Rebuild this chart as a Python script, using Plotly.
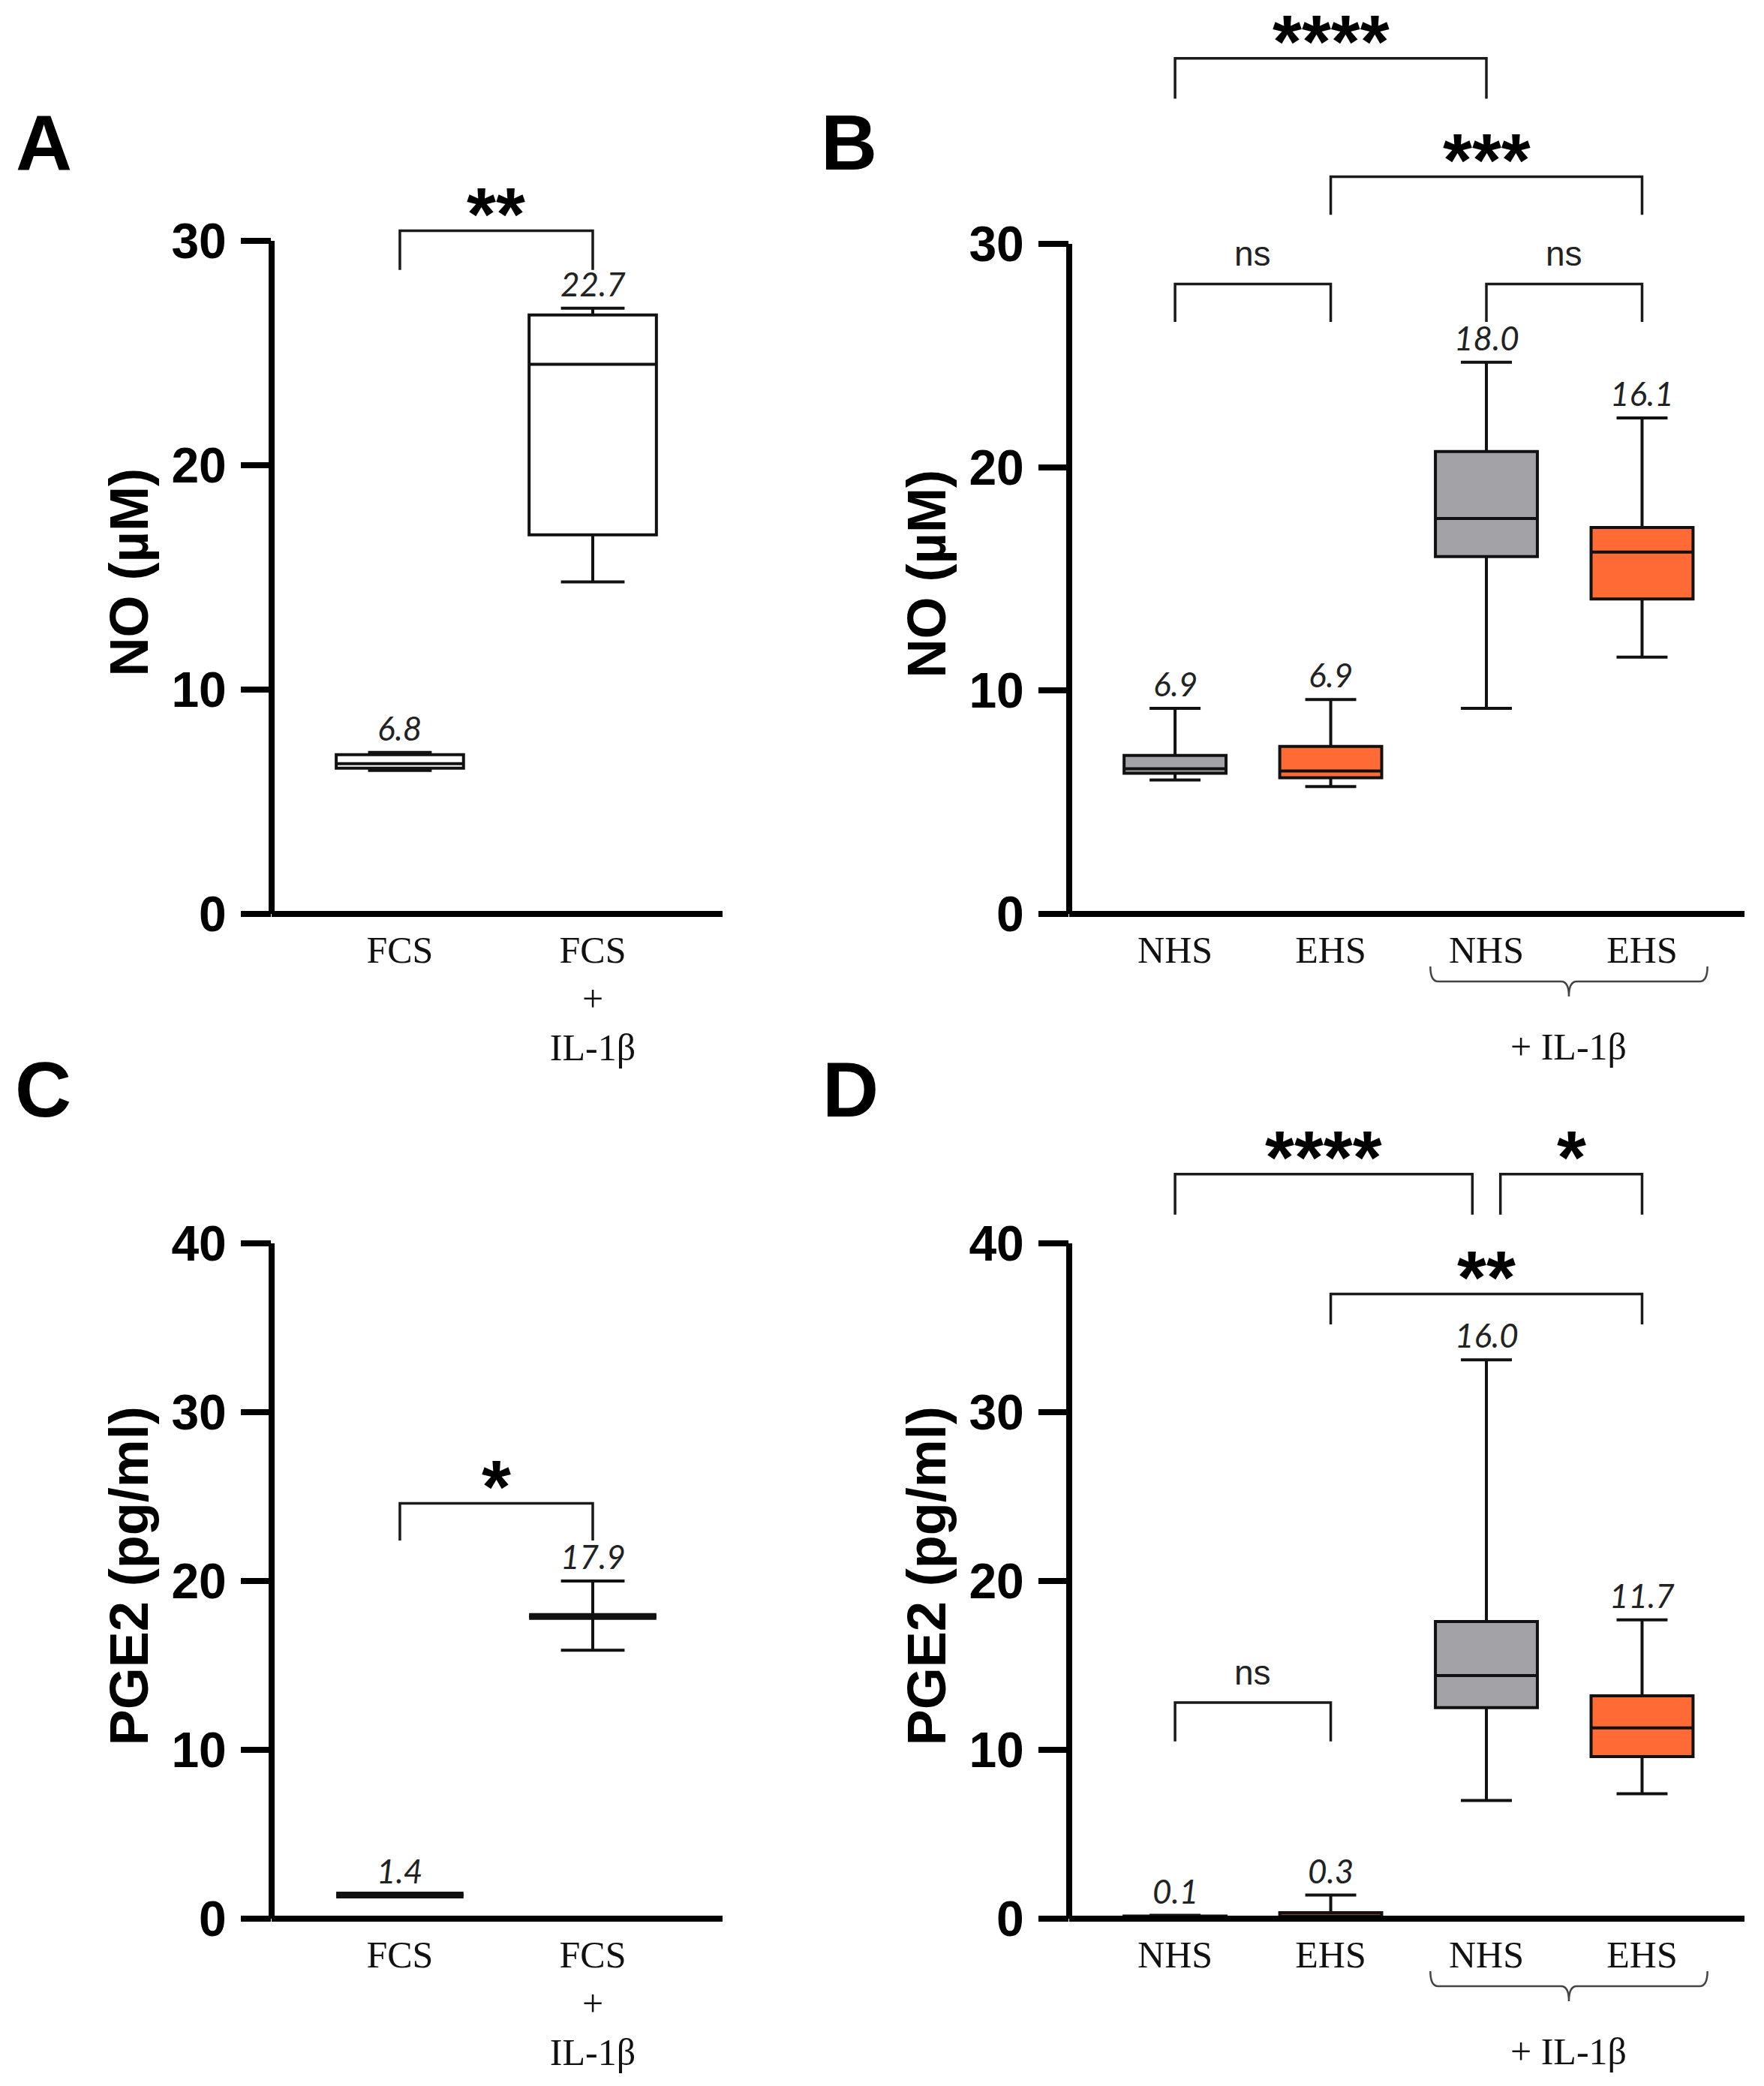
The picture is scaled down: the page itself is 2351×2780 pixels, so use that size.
import plotly.graph_objects as go

# ---- data ----
# A: NO, box plots (FCS / FCS + IL-1b)
posA = [0, 1]
catA = ["FCS", "FCS<br>+<br>IL-1β"]
q1A = [6.5, 16.9]
medA = [6.7, 24.5]
q3A = [7.1, 26.7]
loA = [6.4, 14.8]
hiA = [7.2, 27.0]
labA = ["6.8", "22.7"]

# B: NO, box plots NHS / EHS, without and with IL-1b
posB = [0, 1, 2, 3]
catB = ["NHS", "EHS", "NHS", "EHS"]
q1B = [6.3, 6.1, 16.0, 14.1]
medB = [6.5, 6.4, 17.7, 16.2]
q3B = [7.1, 7.5, 20.7, 17.3]
loB = [6.0, 5.7, 9.2, 11.5]
hiB = [9.2, 9.6, 24.7, 22.2]
labB = ["6.9", "6.9", "18.0", "16.1"]

# C: PGE2, mean with error bars
posC = [0, 1]
catC = ["FCS", "FCS<br>+<br>IL-1β"]
meanC = [1.4, 17.9]
loC = [1.4, 15.9]
hiC = [1.4, 20.0]
labC = ["1.4", "17.9"]

# D: PGE2, box plots
posD = [0, 1, 2, 3]
catD = ["NHS", "EHS", "NHS", "EHS"]
q1D = [0.0, 0.05, 12.5, 9.6]
medD = [0.1, 0.15, 14.4, 11.3]
q3D = [0.15, 0.35, 17.6, 13.2]
loD = [0.0, 0.0, 7.0, 7.4]
hiD = [0.2, 1.4, 33.1, 17.7]
labD = ["0.1", "0.3", "16.0", "11.7"]

# significance brackets: (x start, x end, top, leg end, text)
brA = [(0, 1, 30.45, 28.7, "**")]
brB = [(0, 1, 28.2, 26.5, "ns"), (2, 3, 28.2, 26.5, "ns"),
       (1, 3, 33.0, 31.3, "***"), (0, 2, 38.3, 36.5, "****")]
brC = [(0, 1, 24.6, 22.4, "*")]
brD = [(0, 1, 12.8, 10.5, "ns"), (0, 1.91, 44.1, 41.7, "****"),
       (2.09, 3, 44.1, 41.7, "*"), (1, 3, 37.0, 35.2, "**")]

GRAY = "#a3a2a7"
ORANGE = "#ff6a35"
colB = [GRAY, ORANGE, GRAY, ORANGE]

W, H = 2351, 2780
OFF = 8  # page body margin of the html
SANS = "Liberation Sans"
SERIF = "Liberation Serif"

fig = go.Figure()


def px_x(p):
    return (p - OFF) / W


def px_y(p):
    return 1 - (p - OFF) / H


# panel geometry in pixels: left, right, zero line, px per unit, y range top, top tick
panels = {
    "A": dict(ax="", l=362, r=963, y0=1218, ppu=29.9, rtop=31.0, ttop=30, xr=[-0.665, 1.673]),
    "B": dict(ax="2", l=1425, r=2325, y0=1218, ppu=29.77, rtop=39.0, ttop=30, xr=[-0.68, 3.658]),
    "C": dict(ax="3", l=362, r=963, y0=2557, ppu=22.5, rtop=40.0, ttop=40, xr=[-0.665, 1.673]),
    "D": dict(ax="4", l=1425, r=2325, y0=2557, ppu=22.5, rtop=45.0, ttop=40, xr=[-0.68, 3.658]),
}


def add_box(ax, x, q1, med, q3, lo, hi, color, lw=4, width=0.66):
    fig.add_trace(go.Box(
        x=[x], q1=[q1], median=[med], q3=[q3], lowerfence=[lo], upperfence=[hi],
        fillcolor=color, line=dict(color="#111111", width=lw), width=width,
        whiskerwidth=0.5, boxpoints=False, showlegend=False,
        xaxis="x" + ax, yaxis="y" + ax,
    ))


for i in range(len(posA)):
    add_box("", posA[i], q1A[i], medA[i], q3A[i], loA[i], hiA[i], "white")
for i in range(len(posB)):
    add_box("2", posB[i], q1B[i], medB[i], q3B[i], loB[i], hiB[i], colB[i], width=0.655)
for i in range(len(posC)):
    # error bars (thin) then thick mean line
    add_box("3", posC[i], meanC[i], meanC[i], meanC[i], loC[i], hiC[i], "white", lw=4)
    add_box("3", posC[i], meanC[i], meanC[i], meanC[i], meanC[i], meanC[i], "white", lw=9)
for i in range(len(posD)):
    add_box("4", posD[i], q1D[i], medD[i], q3D[i], loD[i], hiD[i], colB[i], width=0.655)

shapes = []
annotations = []
ticks = {"A": [0, 10, 20, 30], "B": [0, 10, 20, 30], "C": [0, 10, 20, 30, 40], "D": [0, 10, 20, 30, 40]}
cats = {"A": (posA, catA), "B": (posB, catB), "C": (posC, catC), "D": (posD, catD)}
titles = {"A": "NO (µM)", "B": "NO (µM)", "C": "PGE2 (pg/ml)", "D": "PGE2 (pg/ml)"}
title_mid = {"A": 15.2, "B": 15.2, "C": 20.3, "D": 20.3}
brackets = {"A": brA, "B": brB, "C": brC, "D": brD}
values = {
    "A": (posA, hiA, labA), "B": (posB, hiB, labB),
    "C": (posC, hiC, labC), "D": (posD, hiD, labD),
}
letters = {"A": (58, 190), "B": (1131, 190), "C": (57, 1452), "D": (1133, 1452)}

layout_axes = {}
for key, p in panels.items():
    ax = p["ax"]
    top_px = p["y0"] - p["rtop"] * p["ppu"]
    xname = "xaxis" + ax
    yname = "yaxis" + ax
    layout_axes[xname] = dict(
        domain=[px_x(p["l"]), px_x(p["r"])], anchor="y" + ax, range=p["xr"],
        showline=False, showgrid=False, zeroline=False, ticks="",
        tickvals=cats[key][0], ticktext=cats[key][1],
        tickfont=dict(family=SERIF, size=50, color="#111111"),
        ticklabelstandoff=14, fixedrange=True, automargin=False,
    )
    layout_axes[yname] = dict(
        domain=[px_y(p["y0"]), px_y(top_px)], anchor="x" + ax, range=[0, p["rtop"]],
        showline=False, showgrid=False, zeroline=False,
        tickvals=ticks[key], ticks="outside", ticklen=40, tickwidth=8, tickcolor="black",
        tickfont=dict(family=SANS, size=66, color="black", weight="bold"),
        ticklabelstandoff=6, fixedrange=True, automargin=False,
    )
    xr = "x" + ax
    yr = "y" + ax
    # axis lines
    shapes.append(dict(type="line", xref=xr + " domain", yref=yr + " domain",
                       x0=0, x1=1, y0=0, y1=0, line=dict(color="black", width=8)))
    shapes.append(dict(type="line", xref=xr + " domain", yref=yr + " domain",
                       x0=0, x1=0, y0=0, y1=p["ttop"] / p["rtop"],
                       line=dict(color="black", width=8)))
    # brackets
    for (x0, x1, ytop, yleg, txt) in brackets[key]:
        shapes.append(dict(type="path", xref=xr, yref=yr,
                           path=f"M {x0},{yleg} L {x0},{ytop} L {x1},{ytop} L {x1},{yleg}",
                           line=dict(color="#1a1a1a", width=3.5)))
        if txt == "ns":
            annotations.append(dict(x=(x0 + x1) / 2, y=ytop, xref=xr, yref=yr, text="ns",
                                    showarrow=False, yanchor="middle", yshift=40,
                                    font=dict(family=SANS, size=46, color="#222222")))
        else:
            annotations.append(dict(x=(x0 + x1) / 2, y=ytop, xref=xr, yref=yr, text=txt,
                                    showarrow=False, yanchor="middle", yshift=23,
                                    font=dict(family=SANS, size=100, color="black", weight="bold")))
    # value labels above whiskers
    for xv, yv, lab in zip(*values[key]):
        annotations.append(dict(x=xv, y=yv, xref=xr, yref=yr, text=lab, showarrow=False,
                                yanchor="middle", yshift=33,
                                font=dict(family="Lato", size=44, color="#222222", style="italic")))
    # y axis title
    annotations.append(dict(x=px_x(p["l"] - 190), y=title_mid[key], xref="paper", yref=yr,
                            text=titles[key], textangle=-90, showarrow=False,
                            xanchor="center", yanchor="middle",
                            font=dict(family=SANS, size=72, color="black", weight="bold")))
    # panel letter
    lx, ly = letters[key]
    annotations.append(dict(x=px_x(lx), y=px_y(ly), xref="paper", yref="paper", text=key,
                            showarrow=False, xanchor="center", yanchor="middle",
                            font=dict(family=SANS, size=104, color="black", weight="bold")))

# "+ IL-1β" group braces under the last two categories of B and D
for key in ["B", "D"]:
    p = panels[key]
    xr = "x" + p["ax"]
    yt = px_y(p["y0"] + 70)
    yh = px_y(p["y0"] + 90)
    yb = px_y(p["y0"] + 110)
    xl, xc, xrgt = 1.64, 2.53, 3.42
    shapes.append(dict(type="path", xref=xr, yref="paper",
                       path=(f"M {xl},{yt} Q {xl},{yh} {xl + 0.05},{yh} L {xc - 0.05},{yh} "
                             f"Q {xc},{yh} {xc},{yb} Q {xc},{yh} {xc + 0.05},{yh} "
                             f"L {xrgt - 0.05},{yh} Q {xrgt},{yh} {xrgt},{yt}"),
                       line=dict(color="#444444", width=2.5)))
    annotations.append(dict(x=xc, y=px_y(p["y0"] + 177), xref=xr, yref="paper",
                            text="+ IL-1β", showarrow=False, yanchor="middle",
                            font=dict(family=SERIF, size=50, color="#111111")))

fig.update_layout(
    width=W, height=H, margin=dict(l=0, r=0, t=0, b=0, autoexpand=False),
    paper_bgcolor="white", plot_bgcolor="white",
    boxmode="overlay", showlegend=False,
    shapes=shapes, annotations=annotations,
    **layout_axes,
)

fig.write_html("out.html")
